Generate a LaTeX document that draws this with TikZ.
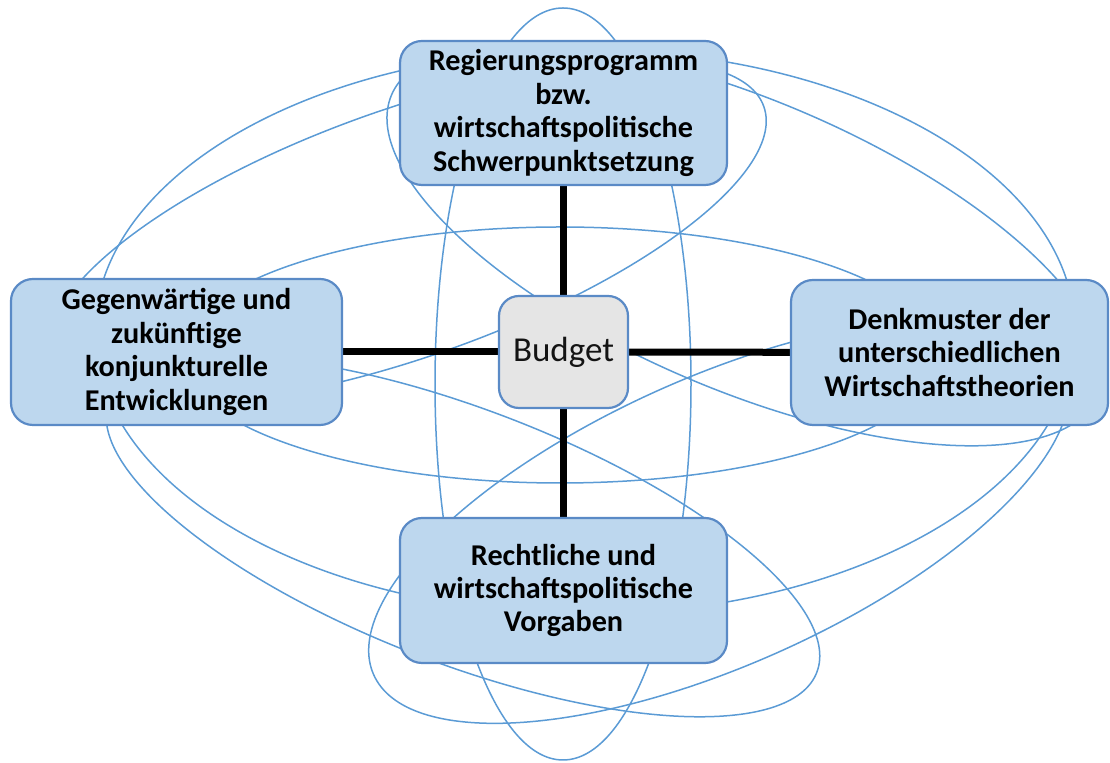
\documentclass[tikz,border=0pt]{standalone}
\usepackage{fontspec}
\setmainfont{Carlito}
\usetikzlibrary{backgrounds}
\definecolor{boxfill}{HTML}{BDD7EE}
\definecolor{boxline}{HTML}{5A8AC6}
\definecolor{orbitc}{HTML}{5B9BD5}
\definecolor{budgetfill}{HTML}{E5E5E5}
\begin{document}
\begin{tikzpicture}[x=0.5pt,y=-0.5pt,
  orbitline/.style={draw=orbitc, line width=0.75pt},
  mainbox/.style={draw=boxline, fill=boxfill, line width=1.1pt, rounded corners=11pt,
    align=center, inner sep=0pt, font=\bfseries\fontsize{15.1}{16.7}\selectfont},
  budgetbox/.style={draw=boxline, fill=budgetfill, line width=1.1pt, rounded corners=10pt,
    inner sep=0pt, font=\fontsize{17.5}{20}\selectfont, text=black!92},
  link/.style={line width=3.5pt, black}
]
\useasboundingbox (0,0) rectangle (1110,763);

\node[mainbox, minimum width=163.5pt, minimum height=72pt] (T) at (563.5,113)
  {Regierungsprogramm\\bzw.\\wirtschaftspolitische\\Schwerpunktsetzung};
\node[mainbox, minimum width=165.5pt, minimum height=73pt] (L) at (176.5,352)
  {Gegenwärtige und\\zukünftige\\konjunkturelle\\Entwicklungen};
\node[mainbox, minimum width=158.5pt, minimum height=72.5pt] (R) at (949.5,352.5)
  {Denkmuster der\\unterschiedlichen\\Wirtschaftstheorien};
\node[mainbox, minimum width=163.5pt, minimum height=72.5pt] (B) at (563.5,590.5)
  {Rechtliche und\\wirtschaftspolitische\\Vorgaben};
\node[budgetbox, minimum width=64.5pt, minimum height=56pt] (Bud) at (563.5,352) {Budget};

\begin{pgfonlayer}{background}
  % vertical and horizontal orbits
  \draw[orbitline] (563,384) ellipse [x radius=64pt, y radius=188pt];
  \draw[orbitline] (560,355) ellipse [x radius=189pt, y radius=64pt];
  % big outer orbit
  \draw[orbitline] (585,332) ellipse [x radius=245pt, y radius=141pt];
  % diagonal orbits
  \draw[orbitline, rotate around={-23:(745,245)}] (745,245) ellipse [x radius=192pt, y radius=72.5pt];
  \draw[orbitline, rotate around={19.5:(407.5,232.7)}] (407.5,232.7) ellipse [x radius=189pt, y radius=62pt];
  \draw[orbitline, rotate around={24:(719,521)}] (719,521) ellipse [x radius=189pt, y radius=72pt];
  \draw[orbitline, rotate around={-21:(463,536.5)}] (463,536.5) ellipse [x radius=189.5pt, y radius=63.5pt];
  % links to the budget
  \draw[link] (T) -- (Bud);
  \draw[link] (L) -- (Bud);
  \draw[link] (R) -- (Bud);
  \draw[link] (B) -- (Bud);
\end{pgfonlayer}
\end{tikzpicture}
\end{document}
